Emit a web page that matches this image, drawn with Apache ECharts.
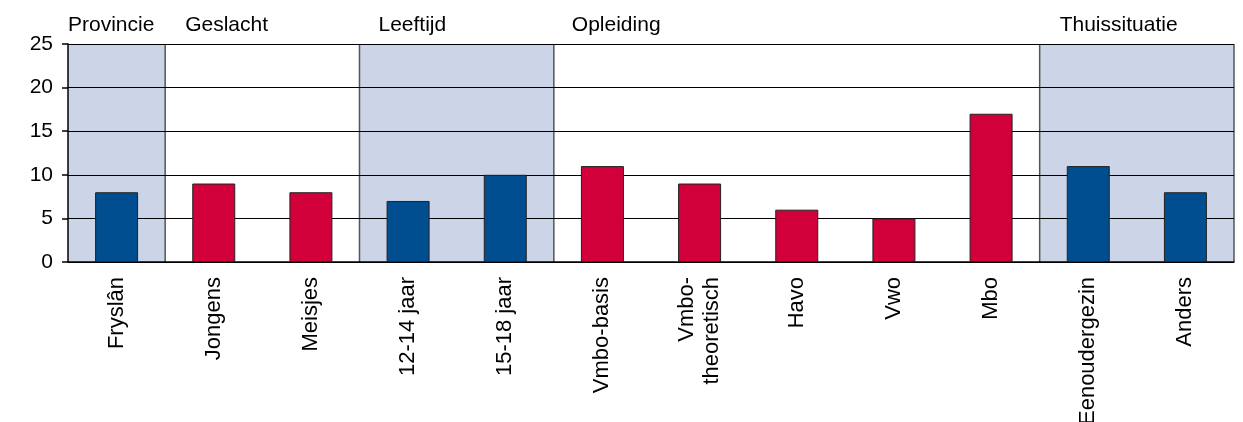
<!DOCTYPE html>
<html>
<head>
<meta charset="utf-8">
<script src="https://cdn.jsdelivr.net/npm/echarts@6/dist/echarts.min.js"></script>
<style>
  html, body { margin: 0; padding: 0; background: #fff; }
  #chart { width: 1243px; height: 422px; }
</style>
</head>
<body>
<div id="chart"></div>
<script>
// Categories and percentages
const categories = ['Fryslân', 'Jongens', 'Meisjes', '12-14 jaar', '15-18 jaar',
  'Vmbo-basis', 'Vmbo-\ntheoretisch', 'Havo', 'Vwo', 'Mbo', 'Eenoudergezin', 'Anders'];
const values = [8, 9, 8, 7, 10, 11, 9, 6, 5, 17, 11, 8];

// Groups of categories (name + number of categories in the group)
const groupNames = ['Provincie', 'Geslacht', 'Leeftijd', 'Opleiding', 'Thuissituatie'];
const groupSizes = [1, 2, 2, 5, 2];

// Value axis
const yMin = 0, yMax = 25, yStep = 5;

// Styling
const FONT = 'Liberation Sans, Arial, sans-serif';
const BLUE = '#004d8f';
const RED = '#d1003a';
const BAND = '#ccd5e8';
const headerShift = [0, 20, 19, 18, 20];

// Group spans in category units on a hidden linear axis
const groups = [];
let start = 0;
groupSizes.forEach((n, i) => {
  groups.push({ name: groupNames[i], start: start, end: start + n, shaded: i % 2 === 0 });
  start += n;
});
const catGroup = [];
groups.forEach((g, gi) => { for (let k = g.start; k < g.end; k++) catGroup.push(gi); });

const barData = values.map((v, i) => ({
  value: v,
  itemStyle: { color: groups[catGroup[i]].shaded ? BLUE : RED }
}));

const chart = echarts.init(document.getElementById('chart'), null, { renderer: 'canvas' });
chart.setOption({
  animation: false,
  backgroundColor: '#fff',
  grid: { left: 68, right: 9, top: 44, bottom: 160, containLabel: false, outerBoundsMode: 'none' },
  xAxis: [{
    type: 'category',
    data: categories,
    axisLine: { show: true, lineStyle: { color: '#000', width: 1.5 } },
    axisTick: { show: false },
    axisLabel: {
      rotate: 90, margin: 15, interval: 0,
      fontFamily: FONT, fontSize: 22, color: '#000', lineHeight: 25,
      padding: [0, 0, 20, 0]
    }
  }, {
    type: 'value', min: 0, max: categories.length, show: false
  }],
  yAxis: {
    type: 'value', min: yMin, max: yMax, interval: yStep,
    axisLine: { show: true, lineStyle: { color: '#000', width: 1.5 } },
    axisTick: { show: true, inside: false, length: 6, lineStyle: { color: '#000', width: 1.5 } },
    axisLabel: { margin: 15, fontFamily: FONT, fontSize: 21, color: '#000' },
    splitLine: { show: true, lineStyle: { color: '#000', width: 1.2 } }
  },
  series: [{
    // Shaded group backgrounds and group headings
    type: 'custom',
    xAxisIndex: 1,
    z: -2,
    clip: false,
    data: groups.map(g => [g.start, g.end, g.shaded ? 1 : 0]),
    renderItem: function (params, api) {
      const g = groups[params.dataIndex];
      const p0 = api.coord([g.start, yMax]);
      const p1 = api.coord([g.end, yMin]);
      const children = [];
      if (g.shaded) {
        children.push({
          type: 'rect',
          shape: { x: p0[0], y: p0[1], width: p1[0] - p0[0], height: p1[1] - p0[1] },
          style: { fill: BAND }
        });
      }
      children.push({
        type: 'text',
        style: {
          text: g.name, x: p0[0] + headerShift[params.dataIndex], y: p0[1] - 19,
          textAlign: 'left', textVerticalAlign: 'middle',
          font: '21px ' + FONT, fill: '#000'
        }
      });
      return { type: 'group', children: children };
    }
  }, {
    // Vertical separators between groups
    type: 'custom',
    xAxisIndex: 1,
    z: -1,
    clip: false,
    data: groups.map(g => [g.end]),
    renderItem: function (params, api) {
      const x = api.value(0);
      const a = api.coord([x, yMax]);
      const b = api.coord([x, yMin]);
      return {
        type: 'line',
        shape: { x1: a[0], y1: a[1], x2: b[0], y2: b[1] },
        style: { stroke: '#555', lineWidth: 1.5 }
      };
    }
  }, {
    type: 'bar',
    data: barData,
    barWidth: 43,
    itemStyle: { borderColor: '#222', borderWidth: 1 }
  }]
});
</script>
</body>
</html>
